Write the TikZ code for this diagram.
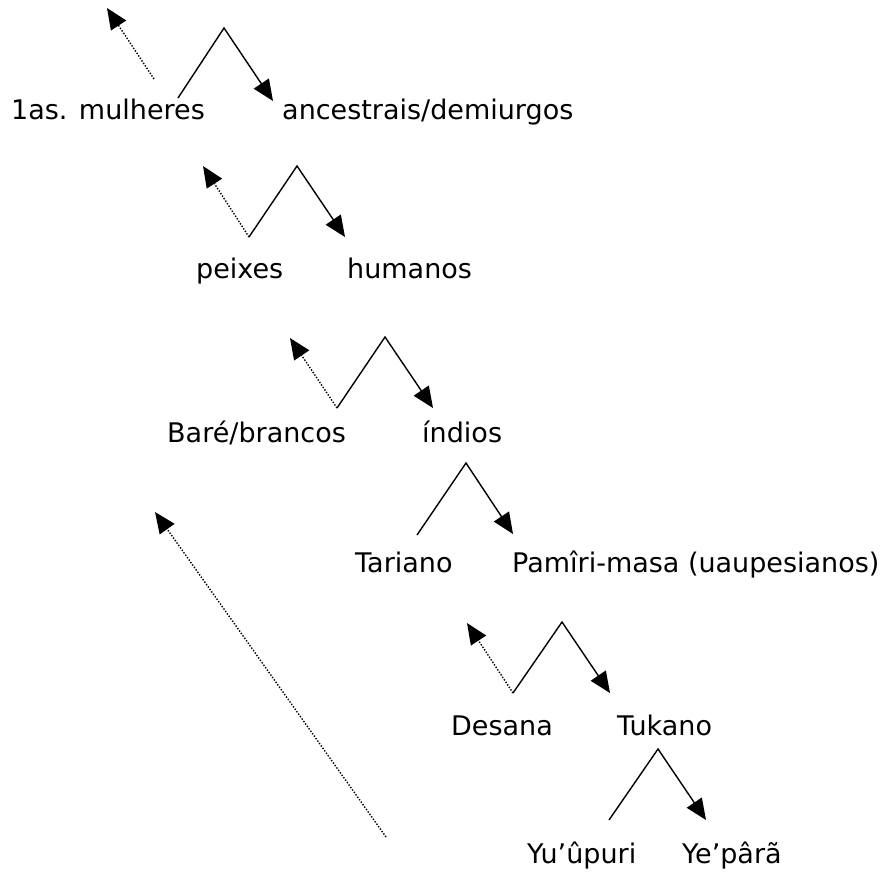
\documentclass[tikz,border=0pt]{standalone}
\usepackage{fontspec}
\setmainfont{DejaVu Sans}
\usetikzlibrary{arrows.meta}
\begin{document}
\begin{tikzpicture}[x=1pt,y=-1pt,
  lbl/.style={anchor=base west,inner sep=0pt,font=\fontsize{27}{31}\selectfont},
  solidarr/.style={line width=1.4pt,-{Triangle[length=21pt,width=18pt]}},
  dotarr/.style={line width=1.4pt,dash pattern=on 1.4pt off 1.6pt,-{Triangle[length=21pt,width=18pt]}}]
\useasboundingbox (0,0) rectangle (882,871);
% texts
\node[lbl] (mul) at (11,119) {1as. mulheres};
\node[lbl] (anc) at (282,119) {ancestrais/demiurgos};
\node[lbl] (pei) at (196,278) {peixes};
\node[lbl] (hum) at (347,278) {humanos};
\node[lbl] (bar) at (167,442) {Baré/brancos};
\node[lbl] (ind) at (422,442) {índios};
\node[lbl] (tar) at (355,572) {Tariano};
\node[lbl] (pam) at (512,572) {Pamîri-masa (uaupesianos)};
\node[lbl] (des) at (451,735) {Desana};
\node[lbl] (tuk) at (617,735) {Tukano};
\node[lbl] (yuu) at (527,863) {Yu’ûpuri};
\node[lbl] (yep) at (682,863) {Ye’pârã};
% coordinates
\coordinate (s1) at (178,98); \coordinate (a1) at (224,28); \coordinate (t1) at (273,101);
\coordinate (e1) at (154,79); \coordinate (d1) at (107,8);
\coordinate (s2) at (249,237); \coordinate (a2) at (297,166); \coordinate (t2) at (345,237); \coordinate (d2) at (203,166);
\coordinate (s3) at (337,408); \coordinate (a3) at (385,337); \coordinate (t3) at (433,408); \coordinate (d3) at (290,338);
\coordinate (s4) at (417,535); \coordinate (a4) at (466,463); \coordinate (t4) at (513,534);
\coordinate (ls) at (386,837); \coordinate (lt) at (155,512);
\coordinate (s5) at (513,693); \coordinate (a5) at (562,622); \coordinate (t5) at (610,693); \coordinate (d5) at (467,623);
\coordinate (s6) at (609,820); \coordinate (a6) at (658,749); \coordinate (t6) at (706,820);
% connectors
\draw[solidarr] (s1) -- (a1) -- (t1);
\draw[dotarr] (e1) -- (d1);
\draw[solidarr] (s2) -- (a2) -- (t2);
\draw[dotarr] (s2) -- (d2);
\draw[solidarr] (s3) -- (a3) -- (t3);
\draw[dotarr] (s3) -- (d3);
\draw[solidarr] (s4) -- (a4) -- (t4);
\draw[dotarr] (ls) -- (lt);
\draw[solidarr] (s5) -- (a5) -- (t5);
\draw[dotarr] (s5) -- (d5);
\draw[solidarr] (s6) -- (a6) -- (t6);
\end{tikzpicture}
\end{document}
